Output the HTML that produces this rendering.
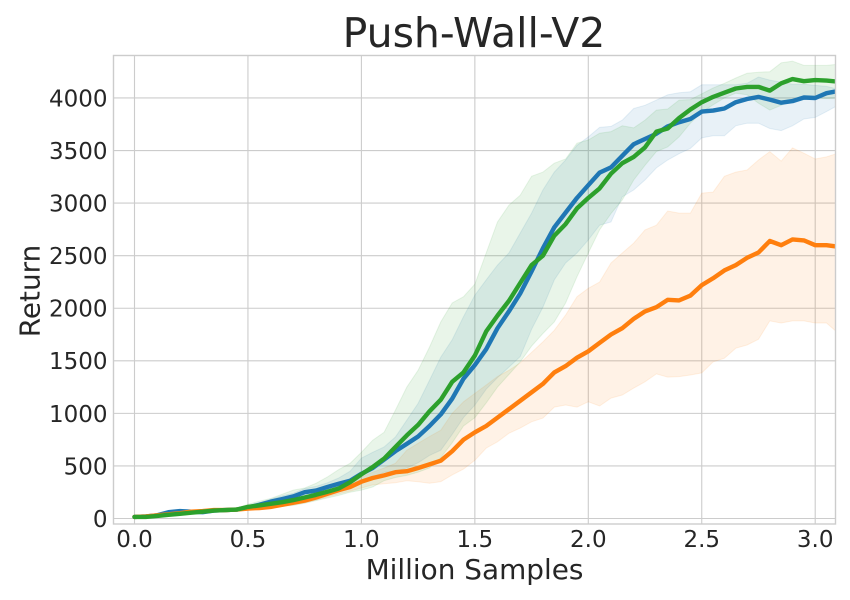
<!DOCTYPE html>
<html lang="en">
<head>
<meta charset="utf-8">
<title>Push-Wall-V2</title>
<style>
html,body{margin:0;padding:0;background:#fff;}
svg{display:block;font-family:"DejaVu Sans","Liberation Sans",sans-serif;}
text{fill:#262626;}
</style>
</head>
<body>
<svg id="chart" width="850" height="600" viewBox="0 0 850 600" xmlns="http://www.w3.org/2000/svg">
  <defs><clipPath id="plot-clip"><rect x="113.5" y="55.5" width="722" height="468.5"/></clipPath></defs>
  <rect x="0" y="0" width="850" height="600" fill="#ffffff"/>
  <g id="grid"></g>
  <g id="bands" clip-path="url(#plot-clip)"></g>
  <g id="lines" clip-path="url(#plot-clip)"></g>
  <rect x="113.5" y="55.5" width="722" height="468.5" fill="none" stroke="#cccccc" stroke-width="1.4"/>
  <g id="ticks"></g>
  <text x="474" y="47" text-anchor="middle" font-size="41px">Push-Wall-V2</text>
  <text x="474.5" y="579" text-anchor="middle" font-size="27.9px">Million Samples</text>
  <text transform="translate(39.5,291) rotate(-90)" text-anchor="middle" font-size="27.9px">Return</text>
</svg>
<script>
const samples = [0,0.05,0.1,0.15,0.2,0.25,0.3,0.35,0.4,0.45,0.5,0.55,0.6,0.65,0.7,0.75,0.8,0.85,0.9,0.95,1,1.05,1.1,1.15,1.2,1.25,1.3,1.35,1.4,1.45,1.5,1.55,1.6,1.65,1.7,1.75,1.8,1.85,1.9,1.95,2,2.05,2.1,2.15,2.2,2.25,2.3,2.35,2.4,2.45,2.5,2.55,2.6,2.65,2.7,2.75,2.8,2.85,2.9,2.95,3,3.05,3.1];
const xTicks = [0,0.5,1,1.5,2,2.5,3];
const xTickLabels = ["0.0","0.5","1.0","1.5","2.0","2.5","3.0"];
const yTicks = [0,500,1000,1500,2000,2500,3000,3500,4000];
const yTickLabels = ["0","500","1000","1500","2000","2500","3000","3500","4000"];

const blueMean = [15,20,30,60,70,65,60,75,80,85,105,130,160,185,210,250,265,300,330,360,425,480,560,640,710,780,880,990,1140,1330,1460,1610,1810,1970,2140,2350,2570,2770,2910,3050,3170,3290,3340,3450,3560,3610,3660,3730,3770,3800,3870,3880,3900,3960,3990,4010,3985,3955,3970,4005,4000,4045,4065];
const blueUpper = [20,25,40,75,85,80,75,85,95,100,125,150,185,215,240,285,305,340,385,450,575,630,680,775,935,1095,1315,1535,1700,1920,2125,2270,2410,2525,2715,2905,3125,3295,3410,3550,3630,3720,3730,3790,3900,3930,3980,4030,4050,4060,4125,4125,4125,4125,4140,4200,4170,4150,4130,4130,4120,4110,4085];
const blueLower = [10,15,20,45,55,50,45,65,70,75,90,110,135,155,180,215,230,260,285,300,340,390,440,450,480,530,600,650,800,960,1080,1230,1340,1440,1540,1800,2010,2270,2430,2525,2650,2790,2820,3060,3125,3220,3335,3410,3470,3520,3620,3640,3640,3735,3760,3760,3710,3690,3735,3800,3815,3870,3930];

const orangeMean = [15,20,30,40,50,65,70,80,80,85,95,100,110,130,150,170,200,235,270,300,350,385,410,440,450,480,515,550,640,750,820,880,960,1040,1120,1200,1280,1390,1450,1530,1590,1670,1750,1810,1900,1970,2010,2080,2075,2120,2220,2285,2360,2410,2480,2530,2640,2600,2655,2645,2600,2600,2585];
const orangeUpper = [18,25,38,48,60,75,85,100,100,105,110,115,125,150,175,195,230,270,310,350,395,440,480,525,650,715,780,840,1000,1110,1190,1270,1350,1410,1480,1580,1680,1790,1935,2110,2190,2250,2430,2525,2620,2745,2790,2925,2905,2905,3095,3105,3255,3295,3315,3410,3490,3400,3525,3475,3420,3440,3475];
const orangeLower = [12,15,22,32,40,55,60,65,65,70,80,85,95,115,130,150,175,205,235,260,290,320,330,340,360,350,335,350,415,470,555,670,730,810,860,920,955,1060,1080,1060,1110,1070,1145,1175,1240,1300,1375,1345,1350,1365,1385,1490,1525,1620,1650,1705,1880,1860,1880,1880,1860,1860,1765];

const greenMean = [15,15,25,35,45,55,65,75,80,85,110,125,140,155,175,200,225,255,285,345,420,490,570,680,790,890,1020,1130,1300,1390,1550,1780,1930,2070,2240,2410,2500,2690,2800,2950,3050,3140,3280,3380,3440,3530,3680,3710,3810,3890,3960,4010,4050,4090,4105,4105,4070,4140,4180,4160,4170,4165,4155];
const greenUpper = [20,20,35,45,55,70,85,95,95,100,135,165,190,230,270,290,335,395,465,525,630,745,820,1030,1250,1410,1630,1870,2050,2110,2230,2525,2820,2980,3075,3255,3295,3380,3420,3570,3600,3665,3680,3735,3715,3790,3885,3895,3980,3985,4040,4095,4140,4190,4235,4245,4250,4335,4350,4310,4310,4310,4320];
const greenLower = [10,10,18,28,35,42,50,60,65,70,90,100,105,115,125,145,170,195,220,250,270,300,360,390,410,440,480,580,720,880,960,1100,1250,1370,1490,1640,1760,1870,2050,2300,2525,2745,2900,3030,3220,3360,3490,3535,3630,3760,3865,3935,4000,4045,4030,3950,3885,3930,3980,3985,4000,3995,4000];

const NS = 'http://www.w3.org/2000/svg';
const xAt = function (v) { return 134.5 + v * 226.9; };
const yAt = function (v) { return 518.5 - v * 0.10513; };
const gridG = document.getElementById('grid');
const tickG = document.getElementById('ticks');
const bandG = document.getElementById('bands');
const lineG = document.getElementById('lines');

function pts(xs, ys) {
  return xs.map(function (x, i) { return xAt(x).toFixed(1) + ',' + yAt(ys[i]).toFixed(1); }).join(' ');
}

xTicks.forEach(function (t, i) {
  const g = document.createElementNS(NS, 'line');
  
  
  g.setAttribute('x1', xAt(t)); g.setAttribute('x2', xAt(t));
  g.setAttribute('y1', 55.5); g.setAttribute('y2', 524);
  g.setAttribute('stroke', '#cccccc'); g.setAttribute('stroke-width', '1.1');
  gridG.appendChild(g);
  const l = document.createElementNS(NS, 'text');
  
  
  l.setAttribute('x', xAt(t)); l.setAttribute('y', 547);
  l.setAttribute('text-anchor', 'middle'); l.setAttribute('font-size', '23px');
  l.textContent = xTickLabels[i];
  tickG.appendChild(l);
});

yTicks.forEach(function (t, i) {
  const g = document.createElementNS(NS, 'line');
  
  
  g.setAttribute('x1', 113.5); g.setAttribute('x2', 835.5);
  g.setAttribute('y1', yAt(t)); g.setAttribute('y2', yAt(t));
  g.setAttribute('stroke', '#cccccc'); g.setAttribute('stroke-width', '1.1');
  gridG.appendChild(g);
  const l = document.createElementNS(NS, 'text');
  
  
  l.setAttribute('x', 107.5); l.setAttribute('y', yAt(t) + 8.4);
  l.setAttribute('text-anchor', 'end'); l.setAttribute('font-size', '23px');
  l.textContent = yTickLabels[i];
  tickG.appendChild(l);
});

function drawSeries(name, color, mean, upper, lower) {
  const band = document.createElementNS(NS, 'polygon');
  
  
  band.setAttribute('points', pts(samples, upper) + ' ' + pts(samples.slice().reverse(), lower.slice().reverse()));
  band.setAttribute('fill', color);
  band.setAttribute('fill-opacity', '0.1');
  band.setAttribute('stroke', color);
  band.setAttribute('stroke-opacity', '0.1');
  band.setAttribute('stroke-width', '1');
  bandG.appendChild(band);
  const line = document.createElementNS(NS, 'polyline');
  
  
  line.setAttribute('points', pts(samples, mean));
  line.setAttribute('fill', 'none');
  line.setAttribute('stroke', color);
  line.setAttribute('stroke-width', '4.4');
  line.setAttribute('stroke-linejoin', 'round');
  line.setAttribute('stroke-linecap', 'round');
  lineG.appendChild(line);
}

drawSeries('blue-series', '#1f77b4', blueMean, blueUpper, blueLower);
drawSeries('orange-series', '#ff7f0e', orangeMean, orangeUpper, orangeLower);
drawSeries('green-series', '#2ca02c', greenMean, greenUpper, greenLower);
</script>
</body>
</html>
